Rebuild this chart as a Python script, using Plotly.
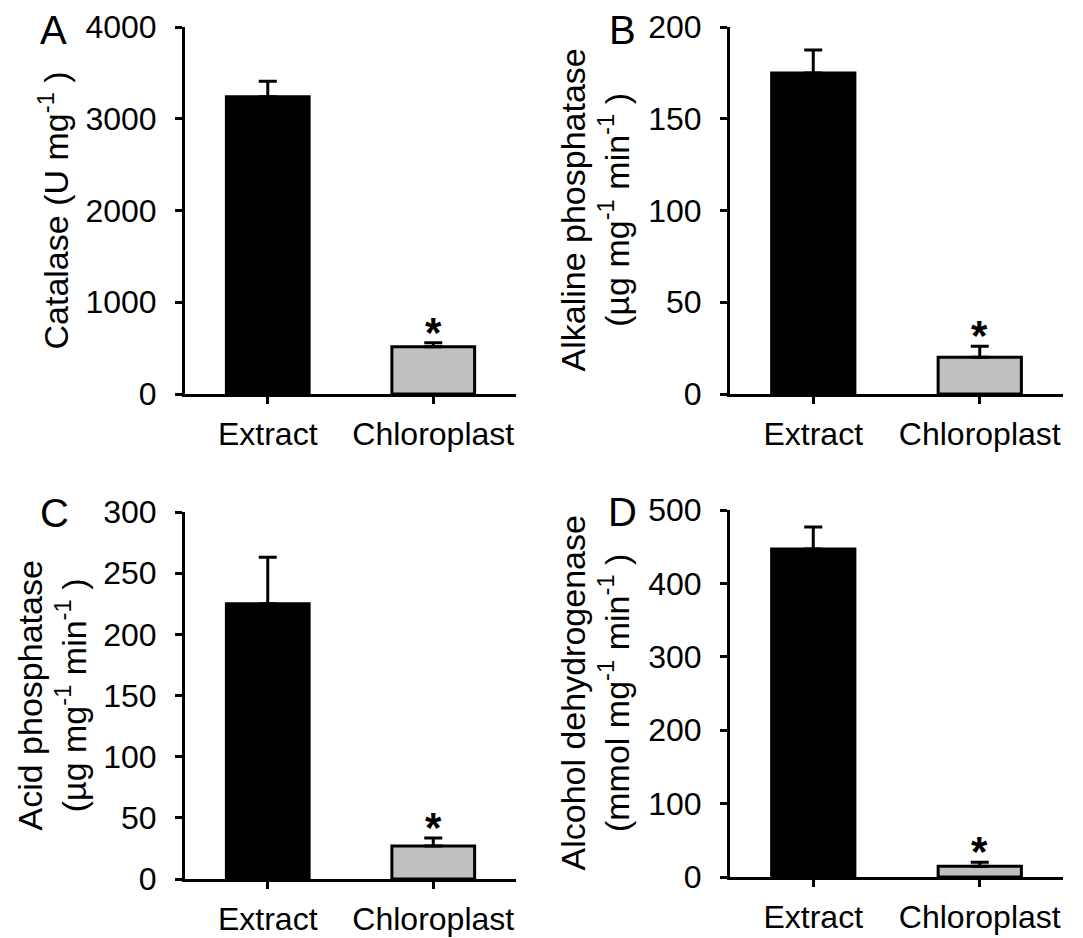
import plotly.graph_objects as go

W, H = 1083, 938
OFF = 8  # page body margin in the browser
FONT = "Liberation Sans, Arial, sans-serif"

categories = ["Extract", "Chloroplast"]
bar_colors = ["#000000", "#c0c0c0"]

catalase = [3240, 516]
catalase_err = [170, 43]
alkaline = [175, 20]
alkaline_err = [12.5, 6]
acid = [225, 27]
acid_err = [38, 6.5]
adh = [447, 14.5]
adh_err = [30, 5.5]

panels = [
    dict(vals=catalase, errs=catalase_err, ymax=4000, dtick=1000,
         xpx=(185, 516), ypx=(27, 394), letter="A", lx=53, ly=30,
         title="Catalase (U mg<sup>-1</sup> )", tx=53),
    dict(vals=alkaline, errs=alkaline_err, ymax=200, dtick=50,
         xpx=(730, 1063), ypx=(27, 394), letter="B", lx=622, ly=30,
         title="Alkaline phosphatase<br>(µg mg<sup>-1</sup> min<sup>-1</sup> )", tx=594),
    dict(vals=acid, errs=acid_err, ymax=300, dtick=50,
         xpx=(185, 516), ypx=(512, 879), letter="C", lx=54, ly=513,
         title="Acid phosphatase<br>(µg mg<sup>-1</sup> min<sup>-1</sup> )", tx=51),
    dict(vals=adh, errs=adh_err, ymax=500, dtick=100,
         xpx=(730, 1063), ypx=(510, 877), letter="D", lx=622, ly=512,
         title="Alcohol dehydrogenase<br>(mmol mg<sup>-1</sup> min<sup>-1</sup> )", tx=594),
]


def px_x(s):
    return (s - OFF) / W


def px_y(s):
    return 1 - (s - OFF) / H


fig = go.Figure()
annotations = []
layout_axes = {}

for i, p in enumerate(panels, start=1):
    xa = "x" if i == 1 else f"x{i}"
    ya = "y" if i == 1 else f"y{i}"
    fig.add_trace(go.Bar(
        x=categories, y=p["vals"], width=0.5,
        marker=dict(color=bar_colors, line=dict(color="black", width=3)),
        error_y=dict(type="data", array=p["errs"], arrayminus=[0, 0],
                     symmetric=False, color="black", thickness=3, width=9),
        xaxis=xa, yaxis=ya, showlegend=False,
    ))
    xd = [px_x(p["xpx"][0]), px_x(p["xpx"][1])]
    yd = [px_y(p["ypx"][1]), px_y(p["ypx"][0])]
    common = dict(showline=True, linecolor="black", linewidth=3, ticks="outside",
                  tickcolor="black", tickwidth=3, ticklen=7, showgrid=False,
                  zeroline=False, automargin=False,
                  tickfont=dict(family=FONT, size=32, color="black"))
    layout_axes["xaxis" if i == 1 else f"xaxis{i}"] = dict(
        domain=xd, anchor=ya, range=[-0.5, 1.5], type="category",
        categoryorder="array", categoryarray=categories,
        ticklabelstandoff=3, **common)
    layout_axes["yaxis" if i == 1 else f"yaxis{i}"] = dict(
        domain=yd, anchor=xa, range=[0, p["ymax"]], dtick=p["dtick"],
        tick0=0, ticklabelstandoff=12, **common)
    # significance asterisk
    annotations.append(dict(
        x=categories[1], y=p["vals"][1] + p["errs"][1], xref=xa, yref=ya,
        text="<b>*</b>", showarrow=False, yanchor="bottom", yshift=-15,
        font=dict(family=FONT, size=42, color="black")))
    # panel letter
    annotations.append(dict(
        x=px_x(p["lx"]), y=px_y(p["ly"]),
        xref="paper", yref="paper", text=p["letter"], showarrow=False,
        xanchor="center", yanchor="middle",
        font=dict(family=FONT, size=40, color="black")))
    # y-axis title
    annotations.append(dict(
        x=px_x(p["tx"]), y=px_y((p["ypx"][0] + p["ypx"][1]) / 2),
        xref="paper", yref="paper", text=p["title"], showarrow=False,
        textangle=-90, xanchor="center", yanchor="middle",
        font=dict(family=FONT, size=34, color="black")))

fig.update_layout(
    width=W, height=H, margin=dict(l=0, r=0, t=0, b=0, autoexpand=False),
    paper_bgcolor="white", plot_bgcolor="white",
    annotations=annotations, **layout_axes,
)

fig.write_html("out.html")
